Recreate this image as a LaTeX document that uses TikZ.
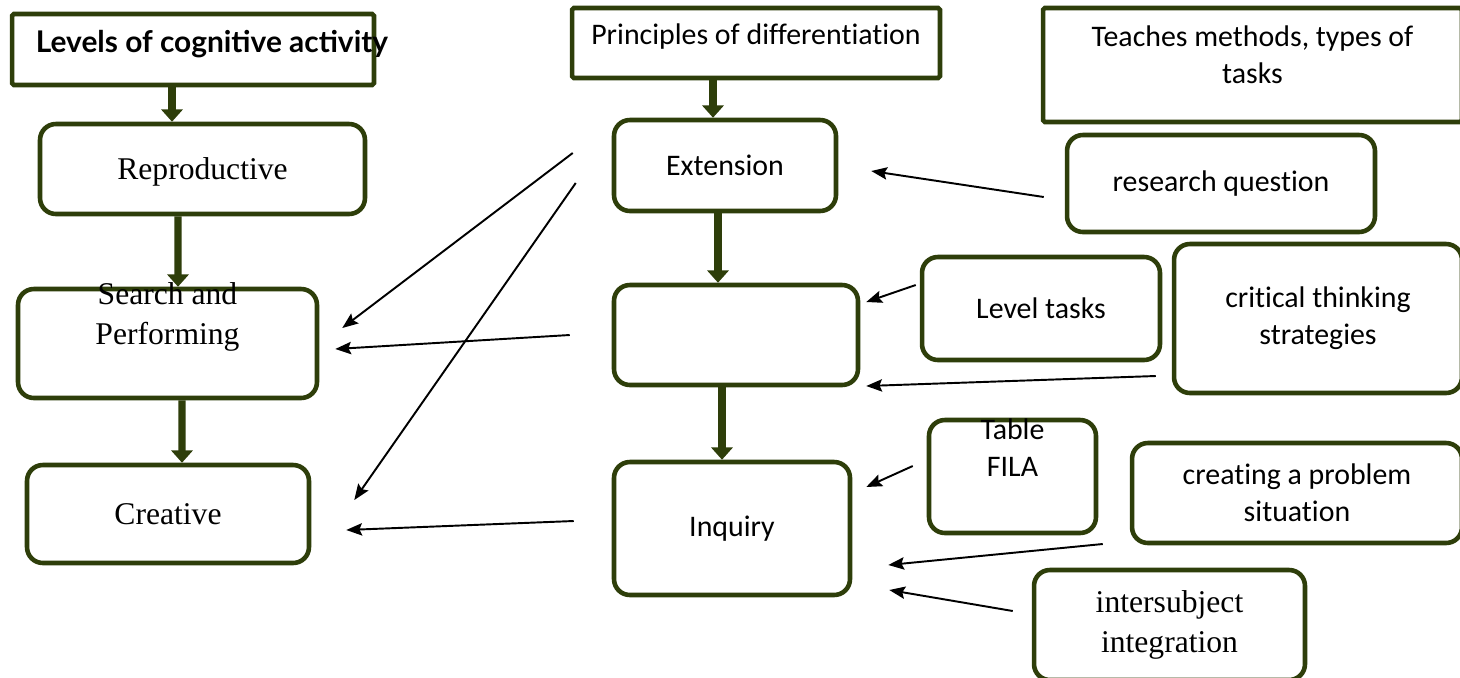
\documentclass[tikz,border=0pt]{standalone}
\usepackage{fontspec}
\setmainfont{Liberation Serif}
\newfontfamily\calfont[Ligatures=NoCommon]{Carlito}
\newfontfamily\gillfont{Lato}
\usetikzlibrary{arrows.meta, calc, positioning}
\definecolor{boxgreen}{RGB}{46,62,10}

\begin{document}
\begin{tikzpicture}[
  x=0.02cm, y=-0.02cm,
  box/.style={draw=boxgreen, line width=2.6pt, rounded corners=9pt, fill=white, inner sep=0pt, align=center},
  sqbox/.style={box, rounded corners=1pt},
  serif/.style={font=\fontsize{18}{23}\selectfont},
  cal/.style={font=\calfont\fontsize{17}{21}\selectfont},
  bigarrow/.style={draw=boxgreen, line width=4pt, -{Triangle[width=12pt,length=7pt]}},
  thinarrow/.style={black, line width=1.1pt, -{Stealth[length=9pt,width=7pt,inset=1.5pt]}},
]
\useasboundingbox (0,0) rectangle (1460,677);

% Levels column
\node[sqbox, minimum width=7.24cm, minimum height=1.42cm,
  label={[font=\gillfont\bfseries\fontsize{17}{20}\selectfont, xshift=0.38cm, yshift=0.11cm]center:Levels of cognitive activity}]
  (levels) at (193,49.5) {};
\node[box, serif, minimum width=6.5cm, minimum height=1.8cm, text depth=0pt] (repro) at (202.5,169) {Reproductive};
\node[box, minimum width=5.98cm, minimum height=2.18cm,
  label={[serif, align=center, yshift=0.53cm]center:Search and\\Performing}]
  (search) at (167.5,343.5) {};
\node[box, serif, minimum width=5.64cm, minimum height=1.96cm, text depth=0pt] (creative) at (168,514) {Creative};

% Principles column
\node[sqbox, minimum width=7.36cm, minimum height=1.4cm,
  label={[cal, yshift=0.12cm]center:Principles of differentiation}]
  (princ) at (756,43) {};
\node[box, cal, minimum width=4.44cm, minimum height=1.82cm] (ext) at (725,165.5) {Extension};
\node[box, minimum width=4.88cm, minimum height=2cm] (mid) at (736,335) {};
\node[box, cal, minimum width=4.72cm, minimum height=2.66cm] (inq) at (732,528.5) {Inquiry};

% Methods column
\node[sqbox, minimum width=8.38cm, minimum height=2.28cm,
  label={[cal, align=center, yshift=0.2cm]center:Teaches methods, types of\\tasks}]
  (teach) at (1252.5,65) {};
\node[box, cal, minimum width=6.16cm, minimum height=1.94cm] (rq) at (1221,183.5) {research question};
\node[box, cal, minimum width=4.76cm, minimum height=2.06cm] (lvltask) at (1041,308.5) {Level tasks};
\node[box, cal, minimum width=5.76cm, minimum height=2.98cm] (crit) at (1318,318.5) {critical thinking\\strategies};
\node[box, minimum width=3.34cm, minimum height=2.26cm,
  label={[cal, align=center, yshift=0.57cm]center:Table\\FILA}]
  (fila) at (1012.5,476.5) {};
\node[box, cal, minimum width=6.6cm, minimum height=2cm] (prob) at (1297,493) {creating a problem\\situation};
\node[box, serif, minimum width=5.42cm, minimum height=2.2cm] (inter) at (1169.5,625) {intersubject\\integration};

% Thick arrows
\draw[bigarrow] ($(levels.south)+(-21,0)$) -- ($(repro.north)+(-30.5,0)$);
\draw[bigarrow] ($(repro.south)+(-24.5,0)$) -- ($(search.north)+(10.5,0)$);
\draw[bigarrow] ($(search.south)+(14.5,0)$) -- ($(creative.north)+(14,0)$);
\draw[bigarrow] ($(princ.south)+(-43,0)$) -- ($(ext.north)+(-12,0)$);
\draw[bigarrow] ($(ext.south)+(-7,0)$) -- ($(mid.north)+(-18,0)$);
\draw[bigarrow] ($(mid.south)+(-14,0)$) -- ($(inq.north)+(-10,0)$);

% Principles to levels
\draw[thinarrow] ($(ext.west)+(-39,-12.5)$) -- ($(search.east)+(23,-15.5)$);
\draw[thinarrow] ($(ext.west)+(-36,17.5)$) -- ($(creative.east)+(43,-14)$);
\draw[thinarrow] ($(mid.west)+(-42,0)$) -- ($(search.east)+(16,5.5)$);
\draw[thinarrow] ($(inq.west)+(-38,-7.5)$) -- ($(creative.east)+(35,16)$);

% Methods to principles
\draw[thinarrow] ($(rq.west)+(-21,13.5)$) -- ($(ext.east)+(33,5.5)$);
\draw[thinarrow] ($(lvltask.west)+(-4,-23.5)$) -- ($(mid.east)+(6,-33)$);
\draw[thinarrow] ($(crit.west)+(-16,57.5)$) -- ($(mid.east)+(6,51)$);
\draw[thinarrow] ($(fila.west)+(-14,-10.5)$) -- ($(inq.east)+(14,-41.5)$);
\draw[thinarrow] ($(prob.west)+(-27,51)$) -- ($(inq.east)+(36,36.5)$);
\draw[thinarrow] ($(inter.west)+(-19,-14)$) -- ($(inq.east)+(37,61.5)$);
\end{tikzpicture}
\end{document}
